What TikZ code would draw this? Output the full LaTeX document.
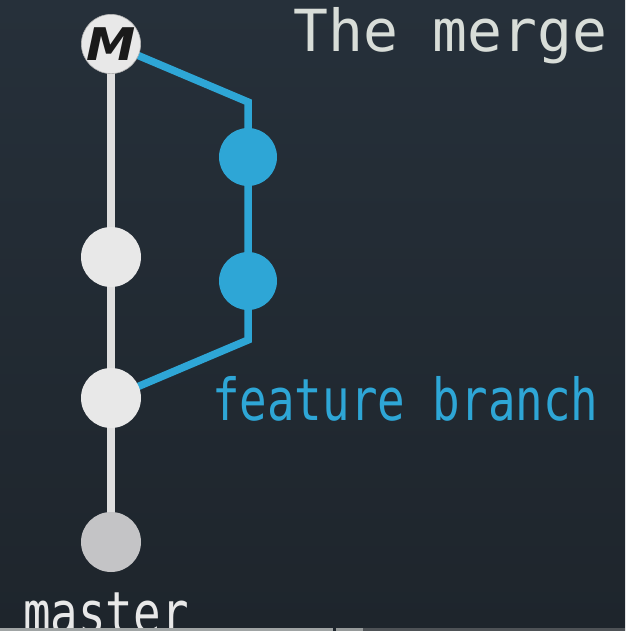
\documentclass[tikz,border=0pt]{standalone}
\usepackage{fontspec}
\setmainfont{DejaVu Sans}
\newfontfamily\monoA{DejaVu Sans Mono}
\newfontfamily\monoC[FakeStretch=0.79]{DejaVu Sans Mono}
\newfontfamily\mfont{DejaVu Sans}
\definecolor{bgtop}{HTML}{26303A}
\definecolor{bgbot}{HTML}{1E252C}
\definecolor{gitblue}{HTML}{2EA6D6}
\definecolor{lightc}{HTML}{E8E8E8}
\definecolor{lowc}{HTML}{C4C4C6}
\definecolor{titlec}{HTML}{D8DDD8}
\definecolor{mainl}{HTML}{DEDEDE}
\pgfdeclarelayer{bg}
\pgfdeclarelayer{back}
\pgfsetlayers{bg,back,main}
\begin{document}
\begin{tikzpicture}[x=1pt,y=-1pt,
  commit/.style={circle,minimum size=60pt,inner sep=0pt},
  greycommit/.style={commit,fill=lightc},
  bluecommit/.style={commit,fill=gitblue,minimum size=58pt},
  mainline/.style={draw=mainl,line width=8pt},
  blueline/.style={draw=gitblue,line width=7.5pt,line join=miter},
  lbl/.style={inner sep=0pt,anchor=base west}]
\useasboundingbox (0,0) rectangle (625,631);
\begin{pgfonlayer}{bg}
\shade[top color=bgtop,bottom color=bgbot] (0,0) rectangle (625,631);
\end{pgfonlayer}
% commits
\node[greycommit,draw=gray!60,line width=0.6pt,minimum size=59pt] (m) at (111,44)
  {\scalebox{1.1}[1]{\mfont\bfseries\itshape\fontsize{45}{45}\selectfont\color[HTML]{1A1A1A}M}};
\node[greycommit] (g1) at (111,257) {};
\node[greycommit] (g2) at (111,398) {};
\node[commit,fill=lowc] (g3) at (111,542) {};
\node[bluecommit] (b1) at (248,157) {};
\node[bluecommit] (b2) at (248,281) {};
\coordinate (c1) at (248,102);
\coordinate (c2) at (248,340);
% connectors
\begin{pgfonlayer}{back}
\draw[mainline] (m.center) -- (g1.center) -- (g2.center) -- (g3.center);
\draw[blueline] (m.center) -- (c1) -- (b1.center) -- (b2.center) -- (c2) -- (g2.center);
\end{pgfonlayer}
% labels
\node[lbl,text=titlec,font=\monoA\fontsize{58}{58}\selectfont] (title) at (293,52) {The merge};
\node[lbl,text=gitblue,font=\monoC\fontsize{58}{58}\selectfont] (feat) at (212,420) {feature branch};
\node[lbl,text=lightc,font=\monoC\fontsize{58}{58}\selectfont] (mst) at (23,633) {master};
% bottom strip
\fill[fill={rgb,255:red,160;green,164;blue,164}] (0,628) rectangle (333,631);
\fill[fill={rgb,255:red,150;green,154;blue,154}] (336,628) rectangle (363,631);
\fill[fill={rgb,255:red,78;green,82;blue,86}] (363,628) rectangle (625,631);
\end{tikzpicture}
\end{document}
